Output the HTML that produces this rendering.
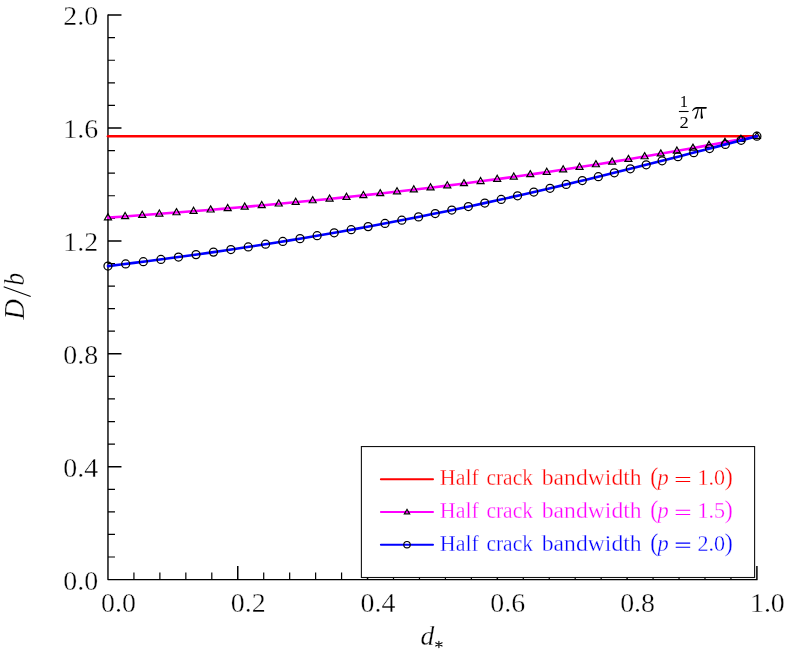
<!DOCTYPE html>
<html><head><meta charset="utf-8"><title>Half crack bandwidth</title>
<style>
html,body{margin:0;padding:0;background:#fff;}
body{width:788px;height:652px;overflow:hidden;}
svg{display:block;will-change:transform;}
text{font-family:"Liberation Serif",serif;}
.tk{font-size:27.9px;fill:#000;stroke:#fff;stroke-width:0.35px;}
.lg{font-size:22.2px;stroke:#fff;stroke-width:0.3px;}
.it{font-style:italic;stroke:#fff;stroke-width:0.3px;}
</style></head><body>
<svg width="788" height="652" viewBox="0 0 788 652">
<rect width="788" height="652" fill="#fff"/>
<path d="M107.97 557.02h7.0M107.97 534.44h7.0M107.97 511.86h7.0M107.97 489.28h7.0M107.97 444.12h7.0M107.97 421.54h7.0M107.97 398.96h7.0M107.97 376.38h7.0M107.97 331.22h7.0M107.97 308.64h7.0M107.97 286.06h7.0M107.97 263.48h7.0M107.97 218.32h7.0M107.97 195.74h7.0M107.97 173.16h7.0M107.97 150.58h7.0M107.97 105.42h7.0M107.97 82.84h7.0M107.97 60.26h7.0M107.97 37.68h7.0M133.93 579.60v-7.0M159.88 579.60v-7.0M185.84 579.60v-7.0M211.80 579.60v-7.0M263.71 579.60v-7.0M289.67 579.60v-7.0M315.63 579.60v-7.0M341.58 579.60v-7.0M393.50 579.60v-7.0M419.46 579.60v-7.0M445.41 579.60v-7.0M471.37 579.60v-7.0M523.29 579.60v-7.0M549.24 579.60v-7.0M575.20 579.60v-7.0M601.16 579.60v-7.0M653.07 579.60v-7.0M679.03 579.60v-7.0M704.99 579.60v-7.0M730.94 579.60v-7.0" stroke="#000" stroke-width="1.2" fill="none"/>
<path d="M107.97 466.70h13.5M107.97 353.80h13.5M107.97 240.90h13.5M107.97 128.00h13.5M107.97 15.10h13.5M237.76 579.60v-13.6M367.54 579.60v-13.6M497.33 579.60v-13.6M627.11 579.60v-13.6M756.90 579.60v-13.6" stroke="#000" stroke-width="1.5" fill="none"/>
<path d="M107.97 14.50V579.60H757.50" stroke="#000" stroke-width="1.4" fill="none" stroke-linejoin="round"/>
<text class="tk" x="98.2" y="589.9" text-anchor="end">0.0</text>
<text class="tk" x="98.2" y="477.0" text-anchor="end">0.4</text>
<text class="tk" x="98.2" y="364.1" text-anchor="end">0.8</text>
<text class="tk" x="98.2" y="251.2" text-anchor="end">1.2</text>
<text class="tk" x="98.2" y="138.3" text-anchor="end">1.6</text>
<text class="tk" x="98.2" y="25.4" text-anchor="end">2.0</text>
<text class="tk" x="118.5" y="612.0" text-anchor="middle">0.0</text>
<text class="tk" x="248.3" y="612.0" text-anchor="middle">0.2</text>
<text class="tk" x="378.0" y="612.0" text-anchor="middle">0.4</text>
<text class="tk" x="507.8" y="612.0" text-anchor="middle">0.6</text>
<text class="tk" x="637.6" y="612.0" text-anchor="middle">0.8</text>
<text class="tk" x="767.4" y="612.0" text-anchor="middle">1.0</text>
<path d="M107.97 136.24H756.90" stroke="#ff0000" stroke-width="2.6" fill="none" stroke-linecap="round"/>
<polyline points="107.97,217.60 120.95,216.69 133.93,215.75 146.91,214.80 159.88,213.82 172.86,212.82 185.84,211.81 198.82,210.76 211.80,209.70 224.78,208.61 237.76,207.50 250.73,206.36 263.71,205.20 276.69,204.01 289.67,202.79 302.65,201.55 315.63,200.28 328.61,198.97 341.58,197.64 354.56,196.28 367.54,194.89 380.52,193.46 393.50,192.01 406.48,190.52 419.46,188.99 432.43,187.43 445.41,185.84 458.39,184.21 471.37,182.54 484.35,180.83 497.33,179.09 510.31,177.31 523.29,175.49 536.26,173.63 549.24,171.73 562.22,169.79 575.20,167.81 588.18,165.79 601.16,163.73 614.14,161.62 627.11,159.48 640.09,157.31 653.07,155.09 666.05,152.84 679.03,150.55 692.01,148.23 704.99,145.88 717.96,143.50 730.94,141.09 743.92,138.67 756.90,136.24" stroke="#ff00ff" stroke-width="2.6" fill="none" stroke-linejoin="round" stroke-linecap="round"/>
<path d="M107.97 213.70l3.5 6.1h-7zM125.12 212.49l3.5 6.1h-7zM142.25 211.24l3.5 6.1h-7zM159.37 209.96l3.5 6.1h-7zM176.47 208.64l3.5 6.1h-7zM193.56 207.29l3.5 6.1h-7zM210.63 205.90l3.5 6.1h-7zM227.69 204.46l3.5 6.1h-7zM244.72 202.99l3.5 6.1h-7zM261.74 201.48l3.5 6.1h-7zM278.74 199.92l3.5 6.1h-7zM295.71 198.32l3.5 6.1h-7zM312.67 196.67l3.5 6.1h-7zM329.59 194.97l3.5 6.1h-7zM346.49 193.23l3.5 6.1h-7zM363.37 191.44l3.5 6.1h-7zM380.21 189.60l3.5 6.1h-7zM397.03 187.70l3.5 6.1h-7zM413.81 185.76l3.5 6.1h-7zM430.56 183.76l3.5 6.1h-7zM447.28 181.70l3.5 6.1h-7zM463.96 179.60l3.5 6.1h-7zM480.60 177.43l3.5 6.1h-7zM497.20 175.21l3.5 6.1h-7zM513.76 172.93l3.5 6.1h-7zM530.28 170.59l3.5 6.1h-7zM546.75 168.19l3.5 6.1h-7zM563.18 165.74l3.5 6.1h-7zM579.56 163.23l3.5 6.1h-7zM595.90 160.66l3.5 6.1h-7zM612.19 158.04l3.5 6.1h-7zM628.43 155.37l3.5 6.1h-7zM644.63 152.64l3.5 6.1h-7zM660.78 149.86l3.5 6.1h-7zM676.89 147.03l3.5 6.1h-7zM692.95 144.16l3.5 6.1h-7zM708.98 141.25l3.5 6.1h-7zM724.98 138.30l3.5 6.1h-7zM740.95 135.33l3.5 6.1h-7zM756.90 132.34l3.5 6.1h-7z" stroke="#000" stroke-width="1.2" fill="none" stroke-linejoin="miter"/>
<polyline points="107.97,266.10 120.95,264.51 133.93,262.89 146.91,261.23 159.88,259.54 172.86,257.80 185.84,256.03 198.82,254.22 211.80,252.37 224.78,250.47 237.76,248.53 250.73,246.55 263.71,244.53 276.69,242.47 289.67,240.36 302.65,238.20 315.63,236.00 328.61,233.75 341.58,231.46 354.56,229.12 367.54,226.73 380.52,224.30 393.50,221.81 406.48,219.29 419.46,216.71 432.43,214.09 445.41,211.42 458.39,208.70 471.37,205.94 484.35,203.13 497.33,200.28 510.31,197.39 523.29,194.45 536.26,191.47 549.24,188.45 562.22,185.39 575.20,182.30 588.18,179.16 601.16,176.00 614.14,172.80 627.11,169.58 640.09,166.33 653.07,163.05 666.05,159.75 679.03,156.43 692.01,153.09 704.99,149.74 717.96,146.37 730.94,143.00 743.92,139.62 756.90,136.24" stroke="#0000ff" stroke-width="2.6" fill="none" stroke-linejoin="round" stroke-linecap="round"/>
<g stroke="#000" stroke-width="1.25" fill="none"><circle cx="107.97" cy="266.10" r="4"/><circle cx="125.66" cy="263.93" r="4"/><circle cx="143.32" cy="261.70" r="4"/><circle cx="160.93" cy="259.40" r="4"/><circle cx="178.49" cy="257.04" r="4"/><circle cx="196.01" cy="254.61" r="4"/><circle cx="213.48" cy="252.12" r="4"/><circle cx="230.89" cy="249.56" r="4"/><circle cx="248.26" cy="246.94" r="4"/><circle cx="265.56" cy="244.24" r="4"/><circle cx="282.81" cy="241.48" r="4"/><circle cx="300.00" cy="238.64" r="4"/><circle cx="317.13" cy="235.74" r="4"/><circle cx="334.20" cy="232.77" r="4"/><circle cx="351.20" cy="229.73" r="4"/><circle cx="368.14" cy="226.62" r="4"/><circle cx="385.01" cy="223.44" r="4"/><circle cx="401.81" cy="220.20" r="4"/><circle cx="418.55" cy="216.89" r="4"/><circle cx="435.22" cy="213.52" r="4"/><circle cx="451.82" cy="210.08" r="4"/><circle cx="468.35" cy="206.59" r="4"/><circle cx="484.81" cy="203.03" r="4"/><circle cx="501.21" cy="199.42" r="4"/><circle cx="517.55" cy="195.75" r="4"/><circle cx="533.82" cy="192.03" r="4"/><circle cx="550.03" cy="188.26" r="4"/><circle cx="566.19" cy="184.45" r="4"/><circle cx="582.29" cy="180.59" r="4"/><circle cx="598.34" cy="176.69" r="4"/><circle cx="614.34" cy="172.75" r="4"/><circle cx="630.29" cy="168.78" r="4"/><circle cx="646.21" cy="164.78" r="4"/><circle cx="662.09" cy="160.76" r="4"/><circle cx="677.94" cy="156.71" r="4"/><circle cx="693.77" cy="152.64" r="4"/><circle cx="709.57" cy="148.55" r="4"/><circle cx="725.35" cy="144.46" r="4"/><circle cx="741.13" cy="140.35" r="4"/><circle cx="756.90" cy="136.24" r="4"/></g>
<rect x="361.4" y="446.55" width="393.2" height="130.95" fill="#fff" stroke="#111" stroke-width="1.1"/>
<path d="M380.9 479.2H433.0" stroke="#ff0000" stroke-width="2.0" stroke-linecap="round" fill="none"/>
<text class="lg" fill="#ff0000" x="439.8" y="484.8" textLength="39.0" lengthAdjust="spacingAndGlyphs">Half</text><text class="lg" fill="#ff0000" x="486.4" y="484.8" textLength="46.6" lengthAdjust="spacingAndGlyphs">crack</text><text class="lg" fill="#ff0000" x="541.7" y="484.8" textLength="100.0" lengthAdjust="spacingAndGlyphs">bandwidth</text><text class="lg" fill="#ff0000" x="697.4" y="484.8" textLength="27.6" lengthAdjust="spacingAndGlyphs">1.0</text><text class="lg" fill="#ff0000" x="657.4" y="484.8" textLength="11.2" lengthAdjust="spacingAndGlyphs" font-style="italic">p</text><text fill="#ff0000" font-size="25.5" stroke="#fff" stroke-width="0.4" y="485.3"><tspan x="650.0">(</tspan><tspan x="724.6">)</tspan></text>
<path d="M675.7 477.40h14.5M675.7 481.50h14.5" stroke="#ff0000" stroke-width="1.05" fill="none"/>
<path d="M380.9 512.1H433.0" stroke="#ff00ff" stroke-width="2.0" stroke-linecap="round" fill="none"/>
<path d="M407 509.30l2.7 4.6h-5.4z" stroke="#000" stroke-width="1.1" fill="none"/>
<text class="lg" fill="#ff00ff" x="439.8" y="517.7" textLength="39.0" lengthAdjust="spacingAndGlyphs">Half</text><text class="lg" fill="#ff00ff" x="486.4" y="517.7" textLength="46.6" lengthAdjust="spacingAndGlyphs">crack</text><text class="lg" fill="#ff00ff" x="541.7" y="517.7" textLength="100.0" lengthAdjust="spacingAndGlyphs">bandwidth</text><text class="lg" fill="#ff00ff" x="697.4" y="517.7" textLength="27.6" lengthAdjust="spacingAndGlyphs">1.5</text><text class="lg" fill="#ff00ff" x="657.4" y="517.7" textLength="11.2" lengthAdjust="spacingAndGlyphs" font-style="italic">p</text><text fill="#ff00ff" font-size="25.5" stroke="#fff" stroke-width="0.4" y="518.2"><tspan x="650.0">(</tspan><tspan x="724.6">)</tspan></text>
<path d="M675.7 510.30h14.5M675.7 514.40h14.5" stroke="#ff00ff" stroke-width="1.05" fill="none"/>
<path d="M380.9 544.7H433.0" stroke="#0000ff" stroke-width="2.0" stroke-linecap="round" fill="none"/>
<circle cx="407" cy="544.7" r="3.2" stroke="#000" stroke-width="1.1" fill="none"/>
<text class="lg" fill="#0000ff" x="439.8" y="550.5" textLength="39.0" lengthAdjust="spacingAndGlyphs">Half</text><text class="lg" fill="#0000ff" x="486.4" y="550.5" textLength="46.6" lengthAdjust="spacingAndGlyphs">crack</text><text class="lg" fill="#0000ff" x="541.7" y="550.5" textLength="100.0" lengthAdjust="spacingAndGlyphs">bandwidth</text><text class="lg" fill="#0000ff" x="697.4" y="550.5" textLength="27.6" lengthAdjust="spacingAndGlyphs">2.0</text><text class="lg" fill="#0000ff" x="657.4" y="550.5" textLength="11.2" lengthAdjust="spacingAndGlyphs" font-style="italic">p</text><text fill="#0000ff" font-size="25.5" stroke="#fff" stroke-width="0.4" y="551.0"><tspan x="650.0">(</tspan><tspan x="724.6">)</tspan></text>
<path d="M675.7 543.10h14.5M675.7 547.20h14.5" stroke="#0000ff" stroke-width="1.05" fill="none"/>
<g transform="translate(24.2 320.4) rotate(-90)"><text class="it" font-size="28.5" x="0.6" y="0">D</text><path d="M23.9 6.5L33.6 -20.5" stroke="#000" stroke-width="1.1" fill="none"/><text class="it" font-size="28.5" x="34.8" y="0" textLength="12.6" lengthAdjust="spacingAndGlyphs">b</text></g>
<text class="it" font-size="27.6" x="420.6" y="644.8">d</text>
<path d="M438.9 641.2v6.4M435.7 642.8l6.4 3.2M435.7 646l6.4 -3.2" stroke="#000" stroke-width="1.1" stroke-linecap="round" fill="none"/>
<text font-size="16.5" x="683.8" y="107.2" text-anchor="middle">1</text>
<path d="M678.9 111.5H688.6" stroke="#000" stroke-width="1.1"/>
<text font-size="16.5" x="679.5" y="128.4" textLength="9.3" lengthAdjust="spacingAndGlyphs">2</text>
<g fill="#000" stroke="none"><path d="M692.0 110.8C693.0 109.2 694.2 107.15 696.4 107.05H706.8L706.4 108.75H696.9C695.0 108.75 693.8 109.9 692.55 111.15Z"/><path d="M697.7 108.4H698.7C698.3 112 697 115.4 696.4 118.2C696.2 118.9 694.2 118.9 694.5 118.0C695.9 115 697.2 112 697.7 108.4Z"/><path d="M701.1 108.4H702.1C702.0 111.6 702.3 114.8 703.0 117.3C703.2 118.2 702.6 118.7 701.9 118.7C700.9 118.7 700.6 117.8 700.6 116.4C700.6 113.8 701.0 111 701.1 108.4Z"/></g>
</svg>
</body></html>
